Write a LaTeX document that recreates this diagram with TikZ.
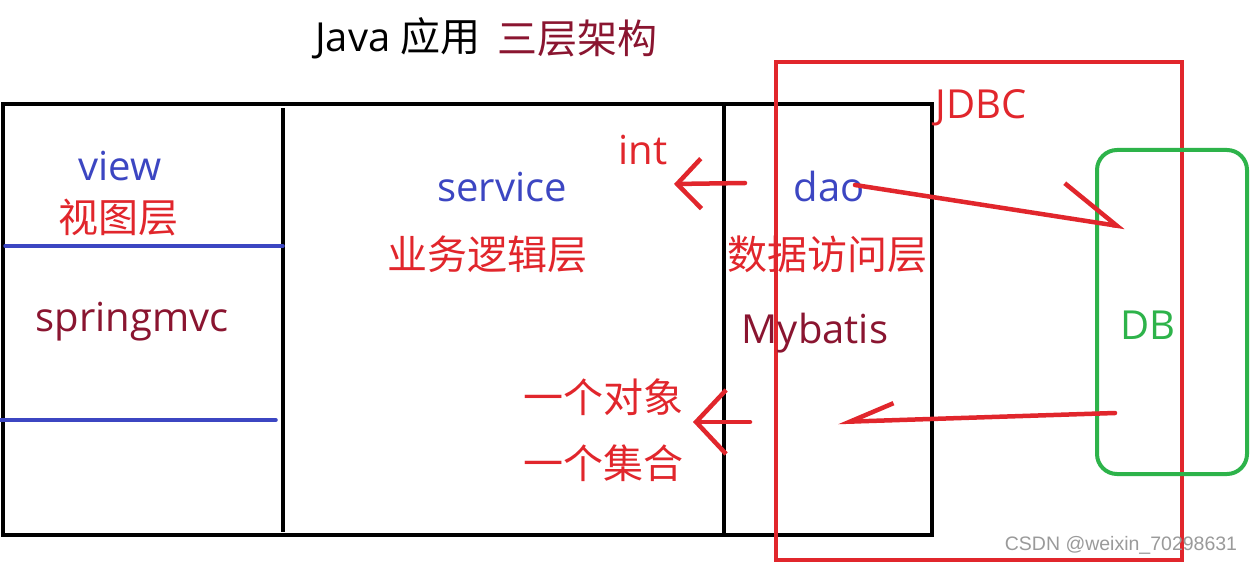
\documentclass[tikz,border=0pt]{standalone}
\usepackage{fontspec}
\setmainfont{Open Sans}
\newfontfamily\cjk{Noto Sans CJK SC}
\newfontfamily\wmfont{Liberation Sans}
\usetikzlibrary{arrows.meta}
\definecolor{lred}{HTML}{E1262C}
\definecolor{tblue}{HTML}{3C46C2}
\definecolor{dred}{HTML}{8A1530}
\definecolor{dgreen}{HTML}{2DB34A}
\definecolor{wmgray}{HTML}{9A9A9A}
\begin{document}
\begin{tikzpicture}[x=1pt,y=-1pt,
  txt/.style={font=\fontsize{40}{44}\selectfont, inner sep=0pt, anchor=center},
  frame/.style={draw=black, line width=4pt},
  bline/.style={draw=tblue, line width=3.5pt, line cap=round},
  rline/.style={draw=lred, line width=4.5pt, line cap=round, line join=round},
]
\useasboundingbox (0,0) rectangle (1252,564);
\fill[white] (0,0) rectangle (1252,564);

% frame
\draw[frame] (3,104) rectangle (932,535);
\draw[frame] (283,108) -- (283,532);
\draw[frame] (724,104) -- (724,535);
% blue separators
\draw[bline] (5,246) -- (283,246);
\draw[bline] (0,420) -- (276,420);
% red box
\draw[draw=lred, line width=4pt] (776,62) rectangle (1182,560);
% green DB box
\draw[draw=dgreen, line width=4pt, rounded corners=20pt] (1097,150) rectangle (1247,474);

% texts
\node[txt] (title1) at (398,38) {Java {\cjk 应用}};
\node[txt, text=dred] (title2) at (577,38) {\cjk 三层架构};
\node[txt, text=lred] (jdbc) at (981,108) {JDBC};
\node[txt, text=tblue] (view) at (120,166) {view};
\node[txt, text=lred] (viewcn) at (118,218) {\cjk 视图层};
\node[txt, text=dred] (smvc) at (132,322) {springmvc};
\node[txt, text=tblue] (service) at (502,187) {service};
\node[txt, text=lred] (servicecn) at (487,254) {\cjk 业务逻辑层};
\node[txt, text=lred] (int) at (643,150) {int};
\node[txt, text=tblue] (dao) at (829,186) {dao};
\node[txt, text=lred] (daocn) at (827,254) {\cjk 数据访问层};
\node[txt, text=dred] (mybatis) at (815,333) {Mybatis};
\node[txt, text=lred] (obj) at (603,397) {\cjk 一个对象};
\node[txt, text=lred] (coll) at (603,463) {\cjk 一个集合};
\node[txt, text=dgreen] (db) at (1148,325) {DB};
\node[font=\wmfont\fontsize{19.5}{22}\selectfont, text=wmgray, inner sep=0pt] (wm) at (1121,545) {CSDN @weixin\_70298631};

% arrows
\coordinate (a1s) at (745,183);
\coordinate (a1e) at (674,184);
\draw[rline, -{Straight Barb[length=24pt,width=50pt]}] (a1s) -- (a1e);

\coordinate (a2s) at (855,185);
\coordinate (a2e) at (1125,227);
\draw[rline, -{Straight Barb[harpoon,length=58pt,width=68pt]}] (a2s) -- (a2e);

\coordinate (a3s) at (1115,413);
\coordinate (a3e) at (838,422);
\draw[rline, -{Straight Barb[harpoon,swap,length=44pt,width=34pt]}] (a3s) -- (a3e);

\coordinate (a4s) at (750,422);
\coordinate (a4e) at (693,422);
\draw[rline, -{Straight Barb[length=30pt,width=64pt]}] (a4s) -- (a4e);
\end{tikzpicture}
\end{document}
